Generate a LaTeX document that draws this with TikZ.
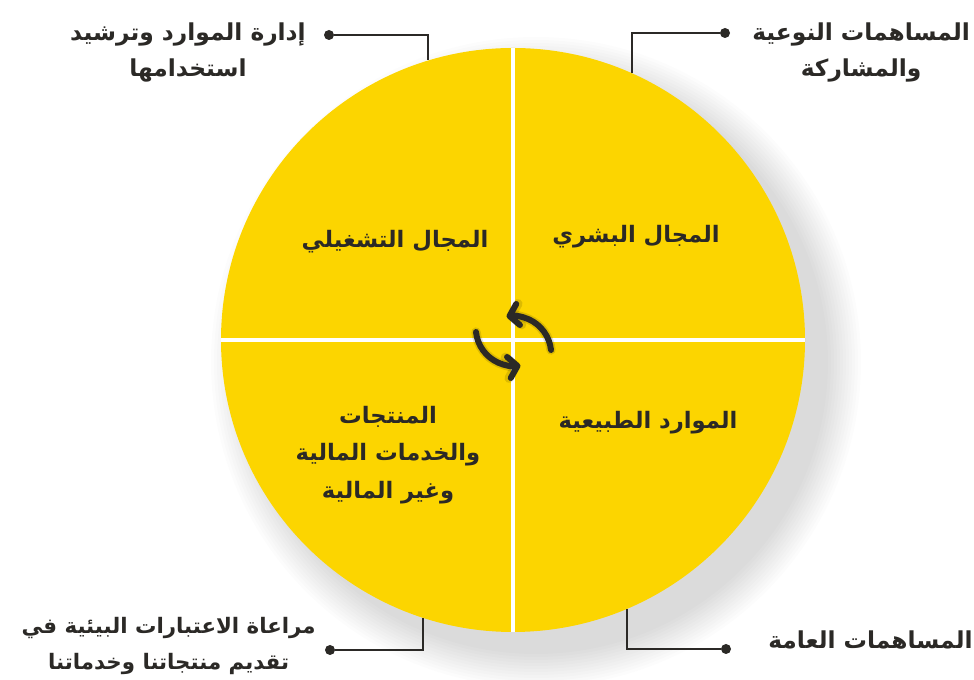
\documentclass[tikz,border=0pt]{standalone}
\usepackage{fontspec}
\newfontfamily\arabicfont[Script=Arabic]{DejaVu Sans}
\TeXXeTstate=1
\usetikzlibrary{positioning, arrows.meta}
\definecolor{gold}{HTML}{FCD500}
\definecolor{ink}{HTML}{2B2926}
\tikzset{
  node distance=1cm and 1.5cm,
  disk/.style={
      circle,
      fill=gold,
      minimum size=438pt,
      inner sep=0pt
    },
  split/.style={
      draw=white,
      line width=3pt
    },
  quad/.style={
      font=\arabicfont\bfseries\fontsize{17}{28}\selectfont,
      text=ink,
      align=center
    },
  side/.style={
      font=\arabicfont\bfseries\fontsize{17.5}{27}\selectfont,
      text=ink,
      align=center,
      inner sep=0pt
    },
  dot/.style={
      circle,
      fill=ink,
      minimum size=7.5pt,
      inner sep=0pt
    },
  lead/.style={
      draw=ink,
      line width=1.5pt
    },
  cyc/.style={
      draw=ink,
      line width=4.5pt,
      line cap=round,
      -{Straight Barb[length=6.5pt, width=16pt, round]}
    }
}

\begin{document}
\begin{tikzpicture}[x=0.75pt, y=0.75pt]
  \useasboundingbox (0,0) rectangle (974,680);
  % soft shadow
  \foreach \r in {0,3,...,33}
    \fill[black, opacity=0.011] (536,318) circle (292+\r);
  \node[disk] (circ) at (513,340) {};
  \draw[split] (circ.north) -- (circ.south);
  \draw[split] (circ.west) -- (circ.east);

  % cycle arrows
  \coordinate (aTop) at (551,330);
  \coordinate (aBot) at (476,348);
  \begin{scope}[shift={(4,-5)}, opacity=0.12]
    \draw[cyc, draw=black, line width=7pt] (aTop) arc[start angle=6, end angle=100, radius=38];
    \draw[cyc, draw=black, line width=7pt] (aBot) arc[start angle=186, end angle=280, radius=38];
  \end{scope}
  \draw[cyc] (aTop) arc[start angle=6, end angle=100, radius=38];
  \draw[cyc] (aBot) arc[start angle=186, end angle=280, radius=38];

  \node[quad] (qTR) at (636,443) {\beginR المجال البشري\endR};
  \node[quad] (qTL) at (395,438) {\beginR المجال التشغيلي\endR};
  \node[quad] (qBR) at (648,257) {\beginR الموارد الطبيعية\endR};
  \node[quad] (qBL) at (388,225) {\beginR المنتجات\endR\\\beginR والخدمات المالية\endR\\\beginR وغير المالية\endR};

  \node[dot] (dTR) at (725,647) {}; \node[dot] (dTL) at (329,645) {};
  \node[dot] (dBL) at (330,30) {}; \node[dot] (dBR) at (726,31) {};
  \draw[lead] (dTR) -| (circ.66);
  \draw[lead] (dTL) -| (circ.107.5);
  \draw[lead] (dBL) -| (circ.252.5);
  \draw[lead] (dBR) -| (circ.293.6);

  \node[side, anchor=west] (tTR) at (752,628) {\beginR المساهمات النوعية\endR\\\beginR والمشاركة\endR};
  \node[side, anchor=east] (tTL) at (306,627) {\beginR إدارة الموارد وترشيد\endR\\\beginR استخدامها\endR};
  \node[side, anchor=east, font=\arabicfont\bfseries\fontsize{16}{27}\selectfont] (tBL) at (316,34) {\beginR مراعاة الاعتبارات البيئية في\endR\\\beginR تقديم منتجاتنا وخدماتنا\endR};
  \node[side, anchor=west] (tBR) at (768,40) {\beginR المساهمات العامة\endR};
\end{tikzpicture}
\end{document}
